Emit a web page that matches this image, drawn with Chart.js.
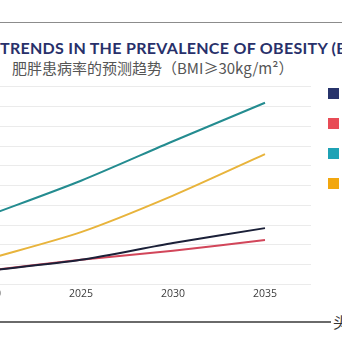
<!DOCTYPE html>
<html>
<head>
<meta charset="utf-8">
<script src="https://cdn.jsdelivr.net/npm/chart.js@4.4.1/dist/chart.umd.min.js"></script>
<style>
  html, body { margin: 0; padding: 0; }
  body { width: 342px; height: 342px; overflow: hidden; position: relative; background: #fff; }
  #topRule { position: absolute; left: 0; top: 22px; width: 342px; height: 1px; background: #8c8c8c; }
  #title { position: absolute; left: 0; top: 40px; white-space: nowrap; font: bold 16px/16px Lato, sans-serif; letter-spacing: 0.3px; color: #28306a; }
  #subtitle { position: absolute; left: 12px; top: 60px; white-space: nowrap; font: 15px/15px "Noto Sans CJK SC", sans-serif; color: #555; }
  #chartBox { position: absolute; left: -57px; top: 70px; width: 428px; height: 233px; }
  #bottomRule { position: absolute; left: 0; top: 321px; width: 331px; height: 1.5px; background: #6a6a6a; }
  #mark { position: absolute; left: 333px; top: 314px; white-space: nowrap; font: 15px/15px "Noto Sans CJK SC", sans-serif; color: #333; }
</style>
</head>
<body>
<div id="topRule"></div>
<div id="title">TRENDS IN THE PREVALENCE OF OBESITY (BMI≥30kg/m²)</div>
<div id="subtitle">肥胖患病率的预测趋势（BMI≥30kg/m²）</div>
<div id="chartBox"><canvas id="trendChart"></canvas></div>
<div id="bottomRule"></div>
<div id="mark">头条</div>
<script>
const years = ['2020', '2025', '2030', '2035'];
const seriesNames = ['中国男性', '中国女性', '美国男性', '美国女性'];
const navyValues = [3.5, 6.25, 10.5, 14.25];
const redValues = [3.5, 6.25, 8.5, 11.25];
const tealValues = [17.5, 26.25, 36.25, 46];
const orangeValues = [6.5, 13.25, 22.5, 33];
const yTicks = [0, 5, 10, 15, 20, 25, 30, 35, 40, 45, 50];

const lineColors = ['#1b2038', '#d2465a', '#248c90', '#e8b43c'];
const boxColors = ['#27336b', '#e84c56', '#1ea2b5', '#f2a70e'];

function makeSet(i, values) {
  return {
    label: seriesNames[i],
    data: values,
    borderColor: lineColors[i],
    backgroundColor: boxColors[i],
    borderWidth: 2,
    pointRadius: 0,
    tension: 0.25
  };
}

const ctx = document.getElementById('trendChart').getContext('2d');
new Chart(ctx, {
  type: 'line',
  data: {
    labels: years,
    datasets: [
      makeSet(0, navyValues),
      makeSet(1, redValues),
      makeSet(2, tealValues),
      makeSet(3, orangeValues)
    ]
  },
  options: {
    responsive: true,
    maintainAspectRatio: false,
    animation: false,
    layout: { padding: 0 },
    plugins: {
      tooltip: { enabled: false },
      legend: {
        position: 'right',
        align: 'start',
        maxWidth: 60,
        labels: {
          boxWidth: 11,
          boxHeight: 11,
          padding: 17,
          color: '#333',
          font: { family: 'Noto Sans CJK SC', size: 13 },
          generateLabels: chart => Chart.defaults.plugins.legend.labels.generateLabels(chart).map(item => {
            item.lineWidth = 0;
            item.strokeStyle = item.fillStyle;
            return item;
          })
        }
      }
    },
    scales: {
      x: {
        type: 'category',
        offset: true,
        grid: { display: false, drawTicks: false },
        border: { display: false },
        ticks: {
          color: '#3c3c3c',
          font: { family: 'Open Sans', size: 10.5 },
          padding: 3,
          maxRotation: 0,
          autoSkip: false
        }
      },
      y: {
        min: 0,
        max: 54.3,
        afterBuildTicks: scale => { scale.ticks = yTicks.map(v => ({ value: v })); },
        ticks: { display: false },
        border: { display: false },
        grid: { color: '#ebebeb', lineWidth: 1, drawTicks: false }
      }
    }
  }
});
</script>
</body>
</html>
